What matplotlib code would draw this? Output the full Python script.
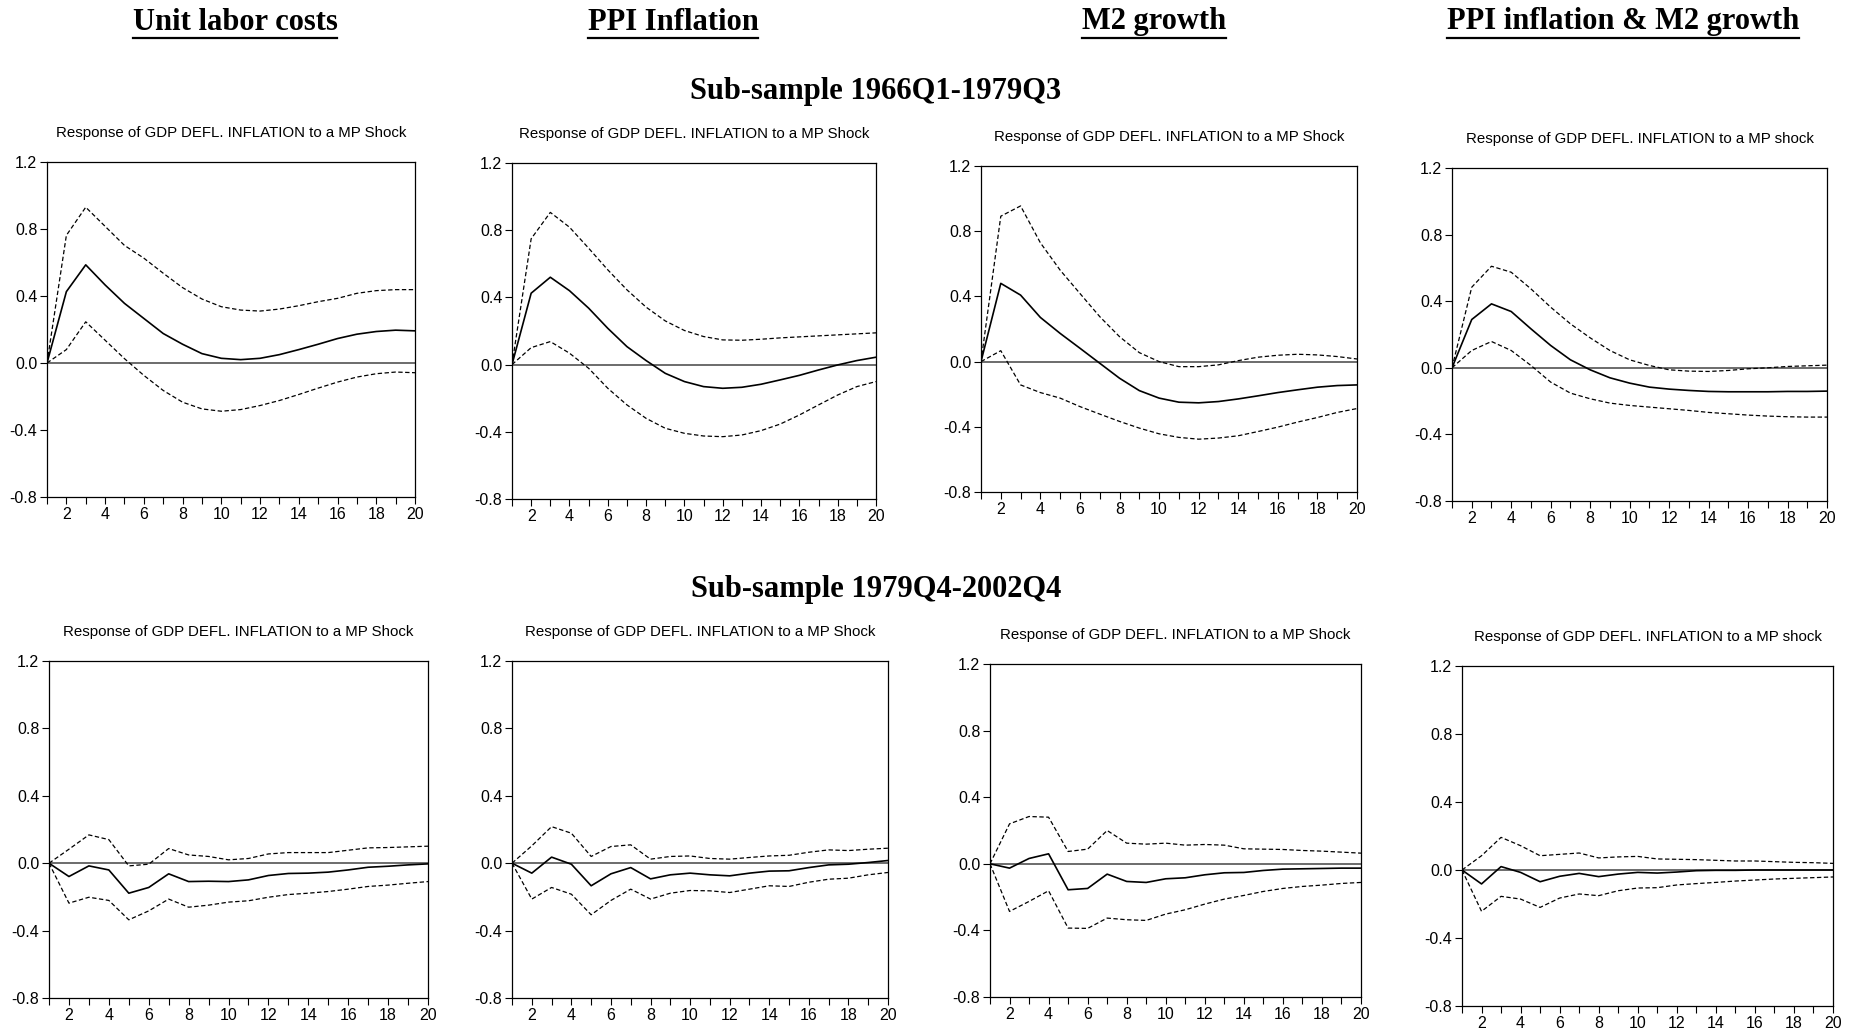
import numpy as np
import matplotlib
matplotlib.use("Agg")
import matplotlib.pyplot as plt
from matplotlib.lines import Line2D

# horizon (quarters)
x = np.arange(1, 21)

# ---- sub-sample 1966Q1-1979Q3 ----
ulc_a = [0, 0.426, 0.586, 0.466, 0.356, 0.266, 0.176, 0.112, 0.056, 0.028,
         0.020, 0.028, 0.050, 0.080, 0.112, 0.146, 0.172, 0.188, 0.196, 0.192]
ulc_a_hi = [0, 0.762, 0.930, 0.816, 0.702, 0.626, 0.536, 0.450, 0.382, 0.336,
            0.316, 0.310, 0.322, 0.342, 0.366, 0.386, 0.416, 0.432, 0.438, 0.438]
ulc_a_lo = [0, 0.080, 0.246, 0.136, 0.026, -0.074, -0.164, -0.234, -0.274, -0.288,
            -0.278, -0.254, -0.224, -0.188, -0.150, -0.114, -0.084, -0.064, -0.054, -0.058]

ppi_a = [0, 0.425, 0.520, 0.440, 0.336, 0.216, 0.107, 0.024, -0.052, -0.101,
         -0.131, -0.141, -0.135, -0.117, -0.091, -0.064, -0.032, -0.002, 0.024, 0.044]
ppi_a_hi = [0, 0.749, 0.906, 0.818, 0.693, 0.564, 0.445, 0.342, 0.260, 0.203,
            0.167, 0.147, 0.145, 0.151, 0.159, 0.165, 0.171, 0.177, 0.183, 0.189]
ppi_a_lo = [0, 0.101, 0.137, 0.068, -0.022, -0.141, -0.240, -0.320, -0.379, -0.409,
            -0.425, -0.429, -0.419, -0.393, -0.354, -0.300, -0.240, -0.181, -0.131, -0.101]

m2_a = [0, 0.480, 0.408, 0.271, 0.173, 0.082, -0.010, -0.102, -0.178, -0.224,
        -0.249, -0.253, -0.245, -0.229, -0.210, -0.190, -0.173, -0.157, -0.147, -0.143]
m2_a_hi = [0, 0.892, 0.955, 0.729, 0.561, 0.418, 0.276, 0.153, 0.055, 0.000,
           -0.031, -0.031, -0.020, 0.006, 0.027, 0.039, 0.045, 0.041, 0.031, 0.016]
m2_a_lo = [0, 0.067, -0.143, -0.190, -0.224, -0.276, -0.322, -0.367, -0.408, -0.443,
           -0.465, -0.476, -0.469, -0.455, -0.429, -0.402, -0.371, -0.343, -0.312, -0.288]

both_a = [0, 0.290, 0.384, 0.338, 0.234, 0.134, 0.048, -0.012, -0.060, -0.092,
          -0.116, -0.128, -0.136, -0.142, -0.144, -0.144, -0.144, -0.142, -0.142, -0.140]
both_a_hi = [0, 0.484, 0.610, 0.574, 0.474, 0.364, 0.264, 0.180, 0.104, 0.048,
             0.014, -0.012, -0.020, -0.022, -0.016, -0.006, 0.000, 0.008, 0.012, 0.016]
both_a_lo = [0, 0.104, 0.158, 0.104, 0.014, -0.086, -0.152, -0.186, -0.212, -0.226,
             -0.236, -0.246, -0.256, -0.268, -0.276, -0.284, -0.290, -0.294, -0.296, -0.296]

# ---- sub-sample 1979Q4-2002Q4 ----
ulc_b = [0, -0.079, -0.016, -0.040, -0.178, -0.144, -0.063, -0.109, -0.107, -0.109,
         -0.099, -0.073, -0.061, -0.059, -0.053, -0.040, -0.024, -0.018, -0.010, -0.004]
ulc_b_hi = [0, 0.083, 0.168, 0.140, -0.016, -0.006, 0.087, 0.049, 0.040, 0.020,
            0.028, 0.055, 0.063, 0.063, 0.063, 0.077, 0.091, 0.093, 0.097, 0.101]
ulc_b_lo = [0, -0.237, -0.202, -0.221, -0.336, -0.283, -0.213, -0.261, -0.249, -0.231,
            -0.223, -0.202, -0.186, -0.178, -0.168, -0.154, -0.138, -0.130, -0.119, -0.109]

ppi_b = [0, -0.059, 0.036, -0.006, -0.134, -0.063, -0.026, -0.093, -0.069, -0.059,
         -0.069, -0.075, -0.059, -0.047, -0.045, -0.026, -0.010, -0.006, 0.004, 0.016]
ppi_b_hi = [0, 0.103, 0.217, 0.178, 0.040, 0.099, 0.109, 0.024, 0.040, 0.043,
            0.028, 0.024, 0.034, 0.043, 0.047, 0.065, 0.079, 0.075, 0.083, 0.089]
ppi_b_lo = [0, -0.213, -0.144, -0.184, -0.306, -0.221, -0.154, -0.213, -0.178, -0.162,
            -0.164, -0.174, -0.154, -0.134, -0.138, -0.113, -0.095, -0.089, -0.069, -0.055]

m2_b = [0, -0.026, 0.032, 0.060, -0.156, -0.148, -0.062, -0.106, -0.112, -0.090,
        -0.084, -0.066, -0.054, -0.052, -0.040, -0.032, -0.030, -0.028, -0.026, -0.026]
m2_b_hi = [0, 0.240, 0.284, 0.280, 0.074, 0.088, 0.200, 0.124, 0.118, 0.124,
           0.112, 0.116, 0.112, 0.090, 0.088, 0.086, 0.080, 0.076, 0.070, 0.064]
m2_b_lo = [0, -0.286, -0.226, -0.162, -0.386, -0.388, -0.326, -0.336, -0.340, -0.302,
           -0.276, -0.242, -0.212, -0.190, -0.166, -0.148, -0.136, -0.128, -0.118, -0.112]

both_b = [0, -0.082, 0.020, -0.014, -0.069, -0.037, -0.020, -0.039, -0.024, -0.014,
          -0.018, -0.012, -0.004, -0.002, -0.002, 0.000, 0.000, 0.000, 0.000, 0.000]
both_b_hi = [0, 0.084, 0.192, 0.143, 0.084, 0.092, 0.100, 0.071, 0.077, 0.080,
             0.065, 0.063, 0.061, 0.057, 0.053, 0.053, 0.049, 0.045, 0.043, 0.039]
both_b_lo = [0, -0.243, -0.155, -0.171, -0.220, -0.165, -0.141, -0.151, -0.122, -0.106,
             -0.104, -0.088, -0.080, -0.073, -0.065, -0.059, -0.053, -0.049, -0.045, -0.041]

col_titles = ["Unit labor costs", "PPI Inflation", "M2 growth", "PPI inflation & M2 growth"]
col_centers = [235, 673, 1154, 1623]
row_titles = ["Sub-sample 1966Q1-1979Q3", "Sub-sample 1979Q4-2002Q4"]
panel_title = "Response of GDP DEFL. INFLATION to a MP Shock"
panel_title_alt = "Response of GDP DEFL. INFLATION to a MP shock"

yticks = [-0.8, -0.4, 0.0, 0.4, 0.8, 1.2]
xlabels = [2, 4, 6, 8, 10, 12, 14, 16, 18, 20]

panels = [
    (ulc_a, ulc_a_hi, ulc_a_lo), (ppi_a, ppi_a_hi, ppi_a_lo),
    (m2_a, m2_a_hi, m2_a_lo), (both_a, both_a_hi, both_a_lo),
    (ulc_b, ulc_b_hi, ulc_b_lo), (ppi_b, ppi_b_hi, ppi_b_lo),
    (m2_b, m2_b_hi, m2_b_lo), (both_b, both_b_hi, both_b_lo),
]

# axes boxes in pixels: left, top, right, bottom
boxes = [
    (47, 162, 415, 497), (512, 163, 876, 499), (981, 166, 1357, 492), (1452, 168, 1827, 501),
    (49, 661, 428, 998), (512, 661, 888, 998), (990, 664, 1361, 997), (1462, 666, 1833, 1006),
]

W, H = 1854, 1031
fig = plt.figure(figsize=(W / 100, H / 100), dpi=100)
sans = ["Liberation Sans Narrow", "Liberation Sans", "DejaVu Sans"]
serif = ["Liberation Serif", "DejaVu Serif"]

for i, ((mid, hi, lo), (l, t, r, b)) in enumerate(zip(panels, boxes)):
    ax = fig.add_axes([l / W, 1 - b / H, (r - l) / W, (b - t) / H])
    ax.axhline(0, color="#444444", lw=1.1, zorder=1)
    ax.plot(x, hi, color="black", lw=0.9, ls=(0, (3.5, 2)))
    ax.plot(x, lo, color="black", lw=0.9, ls=(0, (3.5, 2)))
    ax.plot(x, mid, color="black", lw=1.2)
    ax.set_xlim(1, 20)
    ax.set_ylim(-0.8, 1.2)
    ax.set_yticks(yticks)
    ax.set_yticklabels([f"{v:.1f}" for v in yticks], family=sans, fontsize=11.5)
    ax.set_xticks(x, minor=True)
    ax.set_xticks(xlabels)
    ax.set_xticklabels([str(v) for v in xlabels], family=sans, fontsize=11.5)
    ax.tick_params(axis="both", which="both", direction="out", length=5, width=0.8, pad=2)
    ax.tick_params(top=False, right=False)
    for s in ax.spines.values():
        s.set_linewidth(0.9)
    ttl = panel_title_alt if i % 4 == 3 else panel_title
    ax.set_title(ttl, family=sans, fontsize=10.8, pad=18)

# column headers, bold serif with an underline
fig.canvas.draw()
renderer = fig.canvas.get_renderer()
for name, cx in zip(col_titles, col_centers):
    txt = fig.text(cx / W, 1 - 22 / H, name, ha="center", va="center",
                   family=serif, fontweight="bold", fontsize=22)
    bb = txt.get_window_extent(renderer=renderer)
    yline = (bb.y0 - 1) / H
    fig.add_artist(Line2D([bb.x0 / W, bb.x1 / W], [yline, yline],
                          transform=fig.transFigure, color="black", lw=1.6))

for name, yy in zip(row_titles, [91, 589]):
    fig.text(876 / W, 1 - yy / H, name, ha="center", va="center",
             family=serif, fontweight="bold", fontsize=22)

fig.savefig("out.png", dpi=100)
